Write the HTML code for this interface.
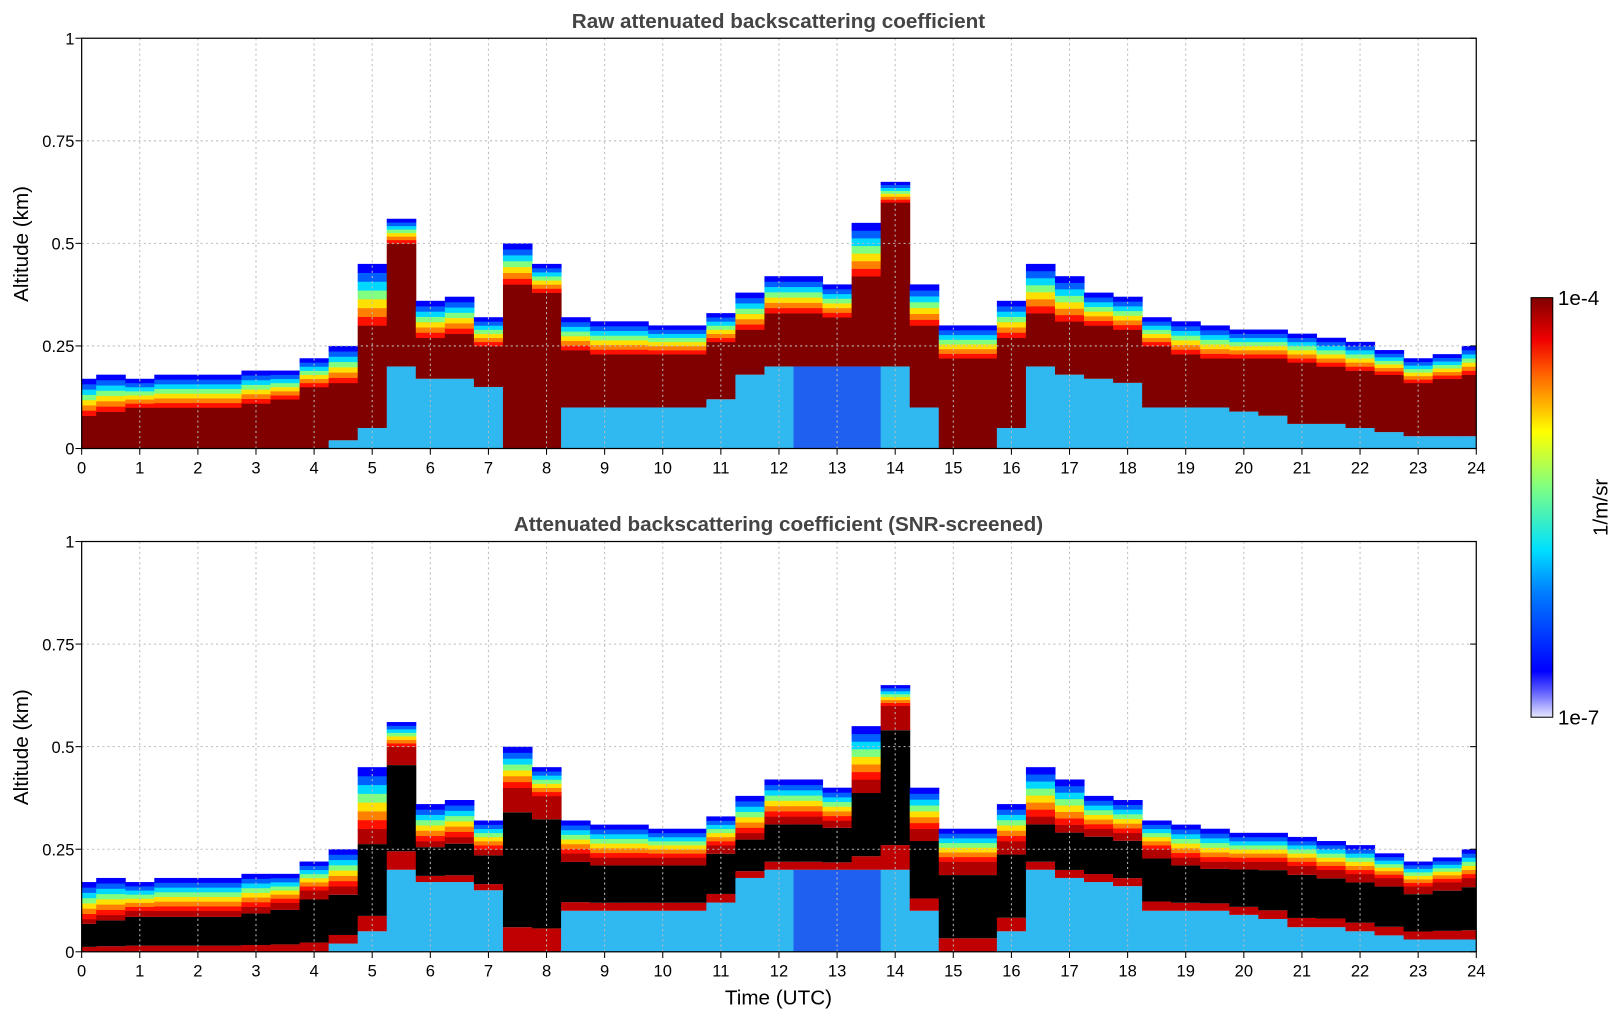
<!DOCTYPE html>
<html><head><meta charset="utf-8"><style>
body{margin:0;background:#fff;}
svg text{font-family:"Liberation Sans","DejaVu Sans",sans-serif;}
</style></head><body>
<svg id="chart" width="1621" height="1020" viewBox="0 0 1568 987" preserveAspectRatio="none" xmlns="http://www.w3.org/2000/svg">
<defs>
<linearGradient id="cbar" x1="0" y1="1" x2="0" y2="0">
<stop offset="0" stop-color="#e8e8ff"/><stop offset="0.06" stop-color="#6060ff"/>
<stop offset="0.11" stop-color="#0000ff"/><stop offset="0.3" stop-color="#0080ff"/>
<stop offset="0.4" stop-color="#00e0ff"/><stop offset="0.55" stop-color="#80ff80"/>
<stop offset="0.68" stop-color="#ffff00"/><stop offset="0.82" stop-color="#ff6000"/>
<stop offset="0.9" stop-color="#f00000"/><stop offset="1" stop-color="#800000"/>
</linearGradient>
<clipPath id="clipP"><rect x="79" y="0" width="1349" height="1000"/></clipPath>
</defs>
<g id="p1"></g>
<g id="p2"></g>
<text x="753" y="27" text-anchor="middle" font-size="20" font-weight="bold" fill="#444">Raw attenuated backscattering coefficient</text>
<text x="753" y="514" text-anchor="middle" font-size="20" font-weight="bold" fill="#444">Attenuated backscattering coefficient (SNR-screened)</text>
<text transform="translate(27,236) rotate(-90)" text-anchor="middle" font-size="20">Altitude (km)</text>
<text transform="translate(27,723) rotate(-90)" text-anchor="middle" font-size="20">Altitude (km)</text>
<text x="753" y="972" text-anchor="middle" font-size="20">Time (UTC)</text>
<rect x="1481" y="288" width="21" height="406" fill="url(#cbar)" stroke="#000" stroke-width="1"/>
<text x="1507" y="295" font-size="20">1e-4</text>
<text x="1507" y="701" font-size="20">1e-7</text>
<text transform="translate(1555,491) rotate(-90)" text-anchor="middle" font-size="20">1/m/sr</text>
</svg>
<script>
// 49 samples every half hour, 0..24 UTC (each drawn as a bin centred on its time)
const sampleTime = Array.from({length:49},(_, i)=>i*0.5);
const topH = [0.17,0.18,0.17,0.18,0.18,0.18,0.19,0.19,0.22,0.25,0.45,0.56,0.36,0.37,0.32,0.5,0.45,0.32,0.31,0.31,0.3,0.3,0.33,0.38,0.42,0.42,0.4,0.55,0.65,0.4,0.3,0.3,0.36,0.45,0.42,0.38,0.37,0.32,0.31,0.3,0.29,0.29,0.28,0.27,0.26,0.24,0.22,0.23,0.25];
const coreTop = [0.08,0.09,0.1,0.1,0.1,0.1,0.11,0.12,0.15,0.16,0.3,0.5,0.27,0.28,0.25,0.4,0.38,0.24,0.23,0.23,0.23,0.23,0.26,0.29,0.33,0.33,0.32,0.42,0.6,0.3,0.22,0.22,0.27,0.33,0.31,0.3,0.29,0.25,0.23,0.22,0.22,0.22,0.21,0.2,0.19,0.18,0.16,0.17,0.18];
const coreBot = [0,0,0,0,0,0,0,0,0,0.02,0.05,0.2,0.17,0.17,0.15,0,0,0.1,0.1,0.1,0.1,0.1,0.12,0.18,0.2,0.2,0.2,0.2,0.2,0.1,0,0,0.05,0.2,0.18,0.17,0.16,0.1,0.1,0.1,0.09,0.08,0.06,0.06,0.05,0.04,0.03,0.03,0.03];
const xTicks = Array.from({length:25},(_, i)=>i);
const yTicks = [0,0.25,0.5,0.75,1];
const yTickLabels = ["0","0.25","0.5","0.75","1"];

const X0=79,X1=1428;
const x = t => X0 + t*(X1-X0)/24;
const NS="http://www.w3.org/2000/svg";
function mk(tag, attrs, parent){const e=document.createElementNS(NS,tag);for(const k in attrs)e.setAttribute(k,attrs[k]);parent.appendChild(e);return e;}

function panel(g, yb, screened){
  const y = v => yb - v*397;
  const bands = ["#ff1000","#ff8000","#ffe000","#80ff80","#00d8ff","#0060ff","#0000ff"];
  const heat = mk('g',{'clip-path':'url(#clipP)'},g);
  for(let i=0;i<sampleTime.length;i++){
    const xa=x(sampleTime[i]-0.25), w=x(sampleTime[i]+0.25)-xa+0.5;
    const col = mk('g',{},heat);
    
    
    const ct=coreTop[i], cb=coreBot[i];
    if(cb>0) mk('rect',{x:xa,y:y(cb),width:w,height:y(0)-y(cb),fill:(i>=25&&i<=27)?'#2060f0':'#30b8f0'},col);
    if(screened){
      const mid = cb + (ct-cb)*0.15;
      mk('rect',{x:xa,y:y(mid),width:w,height:y(cb)-y(mid),fill:'#c00000'},col);
      const blk = ct - (ct-cb)*0.15;
      mk('rect',{x:xa,y:y(blk),width:w,height:y(mid)-y(blk),fill:'#000'},col);
      mk('rect',{x:xa,y:y(ct),width:w,height:y(blk)-y(ct),fill:'#b00000'},col);
    } else {
      mk('rect',{x:xa,y:y(ct),width:w,height:y(cb)-y(ct),fill:'#800000'},col);
    }
    const step=(topH[i]-ct)/bands.length;
    for(let b=0;b<bands.length;b++){
      const lo=ct+b*step, hi=lo+step;
      mk('rect',{x:xa,y:y(hi),width:w,height:y(lo)-y(hi)+0.3,fill:bands[b]},col);
    }
  }
  for(const t of xTicks){
    if(t>0&&t<24){const l=mk('line',{x1:x(t),x2:x(t),y1:y(1),y2:y(0),stroke:'#bbb','stroke-dasharray':'2,3'},g);}
    const tk=mk('line',{x1:x(t),x2:x(t),y1:y(0),y2:y(0)+6,stroke:'#000'},g);
    
    const tl=mk('text',{x:x(t),y:y(0)+24,'text-anchor':'middle','font-size':16},g);tl.textContent=t;
    
  }
  yTicks.forEach((v,k)=>{
    if(v>0&&v<1){const l=mk('line',{x1:X0,x2:X1,y1:y(v),y2:y(v),stroke:'#bbb','stroke-dasharray':'2,3'},g);}
    mk('line',{x1:X0-6,x2:X0,y1:y(v),y2:y(v),stroke:'#000'},g);
    mk('line',{x1:X1-6,x2:X1,y1:y(v),y2:y(v),stroke:'#000'},g);
    const tl=mk('text',{x:X0-7,y:y(v)+6,'text-anchor':'end','font-size':16},g);tl.textContent=yTickLabels[k];
    
  });
  const fr=mk('rect',{x:X0,y:y(1),width:X1-X0,height:397,fill:'none',stroke:'#000','stroke-width':1.2},g);
  
}
panel(document.getElementById('p1'),434,false);
panel(document.getElementById('p2'),921,true);
</script>
</body></html>
